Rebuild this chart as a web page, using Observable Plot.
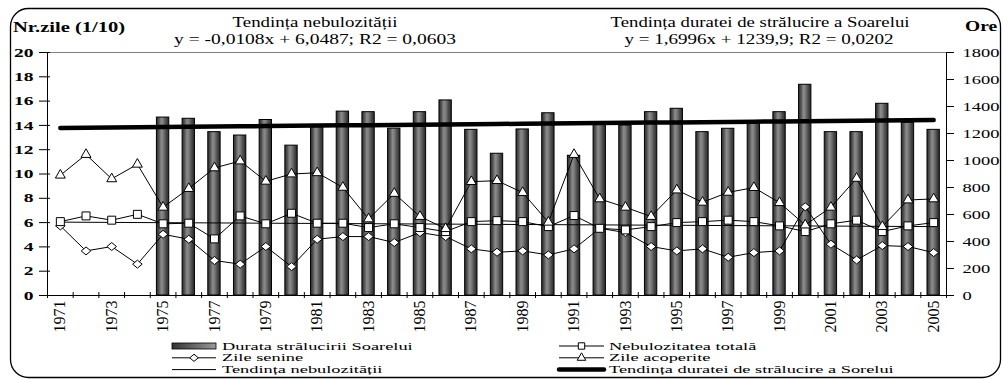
<!DOCTYPE html>
<html>
<head>
<meta charset="utf-8">
<script src="https://cdn.jsdelivr.net/npm/d3@7"></script>
<script src="https://cdn.jsdelivr.net/npm/@observablehq/plot@0.6"></script>
<style>
  body { margin: 0; background: #fff; }
  #chart { position: relative; width: 1003px; height: 379px; overflow: hidden; font-family: "Liberation Serif", "Times New Roman", serif; }
  #chart > svg { position: absolute; left: 0; top: 0; }
  #chart text { font-family: "Liberation Serif", "Times New Roman", serif; }
</style>
</head>
<body>
<div id="chart"></div>
<script>
// Yearly series, 1971–2005
const years = [1971,1972,1973,1974,1975,1976,1977,1978,1979,1980,1981,1982,1983,1984,1985,1986,1987,1988,1989,1990,1991,1992,1993,1994,1995,1996,1997,1998,1999,2000,2001,2002,2003,2004,2005];

// Durata strălucirii Soarelui (ore) – right axis
const sunHours = [null,null,null,null,1318,1309,1210,1185,1300,1110,1252,1362,1358,1236,1358,1445,1227,1050,1230,1350,1035,1274,1259,1358,1383,1210,1235,1281,1358,1561,1210,1210,1420,1279,1227];

// Nebulozitatea totală (zecimi) – left axis
const nebulozitate = [6.08,6.55,6.2,6.68,5.9,5.95,4.66,6.55,5.9,6.77,5.95,5.95,5.59,5.9,5.59,5.26,6.08,6.16,6.08,5.67,6.58,5.53,5.4,5.67,6.0,6.08,6.2,6.08,5.73,5.26,5.9,6.2,5.26,5.73,6.0];

// Zile senine (nr. zile / 10)
const zileSenine = [5.73,3.67,4.03,2.58,5.04,4.63,2.88,2.58,4.03,2.38,4.63,4.85,4.85,4.36,5.18,4.85,3.84,3.56,3.67,3.34,3.84,5.53,5.18,4.03,3.67,3.84,3.15,3.53,3.67,7.3,4.22,2.93,4.11,4.03,3.53];

// Zile acoperite (nr. zile / 10)
const zileAcoperite = [9.9,11.6,9.6,10.8,7.26,8.8,10.5,11.07,9.4,10.0,10.1,8.9,6.3,8.4,6.5,5.5,9.37,9.45,8.47,6.03,11.6,7.95,7.26,6.5,8.68,7.67,8.49,8.88,7.64,5.8,7.26,9.64,5.67,7.86,7.95];

// Axis ticks
const leftTicks = [0,2,4,6,8,10,12,14,16,18,20];
const rightTicks = [0,200,400,600,800,1000,1200,1400,1600,1800];
const xTickLabels = [1971,1973,1975,1977,1979,1981,1983,1985,1987,1989,1991,1993,1995,1997,1999,2001,2003,2005];

// Linear trends as stated in the header (x = 1 for 1971)
const trendNeb = { slope: -0.0108, intercept: 6.0487 };
const trendSun = { slope: 1.6996, intercept: 1239.9 };

// Right axis (0–1800 h) shares the plot with the left axis (0–20)
const hoursPerUnit = 1800 / 20;

const FONT = '"Liberation Serif", "Times New Roman", serif';

const rows = years.map((year, i) => ({
  year, sun: sunHours[i], neb: nebulozitate[i], sen: zileSenine[i], aco: zileAcoperite[i]
}));
const barRows = rows.filter(d => d.sun != null);
const nebTrend = years.map((year, i) => ({ year, v: trendNeb.intercept + trendNeb.slope * (i + 1) }));
const sunTrend = years.map((year, i) => ({ year, v: (trendSun.intercept + trendSun.slope * (i + 1)) / hoursPerUnit }));
const boundaries = [years[0] - 0.5, ...years.map(y => y + 0.5)];
const barHalf = 0.24;

// A diamond slightly wider than tall
const wideDiamond = {
  draw(ctx, size) {
    const r = Math.sqrt(size / Math.PI);
    ctx.moveTo(-1.2 * r, 0);
    ctx.lineTo(0, -r);
    ctx.lineTo(1.2 * r, 0);
    ctx.lineTo(0, r);
    ctx.closePath();
  }
};

const plot = Plot.plot({
  width: 1003,
  height: 340,
  marginTop: 52,
  marginBottom: 45,
  marginLeft: 47,
  marginRight: 57,
  style: { fontFamily: FONT, fontSize: "13px", color: "#000", background: "transparent" },
  x: { type: "linear", domain: [years[0] - 0.5, years[years.length - 1] + 0.5] },
  y: { domain: [0, 20] },
  marks: [
    Plot.rectY(barRows, {
      x1: d => d.year - barHalf, x2: d => d.year + barHalf,
      y1: 0, y2: d => d.sun / hoursPerUnit,
      fill: "url(#barGradient)", stroke: "#000", strokeWidth: 1
    }),
    Plot.ruleY([20], { stroke: "#808080", strokeWidth: 1 }),
    Plot.ruleY([0], { stroke: "#000", strokeWidth: 1 }),
    Plot.ruleX([years[0] - 0.5, years[years.length - 1] + 0.5], { stroke: "#000", strokeWidth: 1 }),
    Plot.line(nebTrend, { x: "year", y: "v", stroke: "#000", strokeWidth: 1 }),
    Plot.line(rows, { x: "year", y: "sen", stroke: "#000", strokeWidth: 1 }),
    Plot.dot(rows, { x: "year", y: "sen", symbol: wideDiamond, r: 4, fill: "#fff", stroke: "#000", strokeWidth: 1 }),
    Plot.line(rows, { x: "year", y: "neb", stroke: "#000", strokeWidth: 1 }),
    Plot.dot(rows, { x: "year", y: "neb", symbol: "square", r: 4.5, fill: "#fff", stroke: "#000", strokeWidth: 1 }),
    Plot.line(rows, { x: "year", y: "aco", stroke: "#000", strokeWidth: 1 }),
    Plot.dot(rows, { x: "year", y: "aco", symbol: "triangle", r: 3.7, fill: "#fff", stroke: "#000", strokeWidth: 1 }),
    Plot.line(sunTrend, { x: "year", y: "v", stroke: "#000", strokeWidth: 4.5, strokeLinecap: "round" }),
    Plot.axisY({ anchor: "left", ticks: leftTicks, tickSize: 11, dx: 3, tickPadding: 6, fontWeight: "bold", label: null }),
    Plot.axisY({ anchor: "right", ticks: rightTicks.map(h => h / hoursPerUnit), tickFormat: d => String(Math.round(d * hoursPerUnit)), tickSize: 7, tickPadding: 9, label: null }),
    Plot.axisX({ ticks: boundaries, tickSize: 6, dy: -3, tickFormat: () => "", label: null }),
    Plot.axisX({ ticks: xTickLabels, tickSize: 0, tickPadding: 5, tickRotate: -90, fontSize: 16, tickFormat: d => String(d), label: null })
  ]
});

// Bar fill: cylinder-like horizontal shading
const defs = d3.select(plot).insert("defs", ":first-child");
const bg = defs.append("linearGradient").attr("id", "barGradient").attr("x1", 0).attr("x2", 1).attr("y1", 0).attr("y2", 0);
[[0, "#2c2c2c"], [0.18, "#4f4f4f"], [0.4, "#8c8c8c"], [0.55, "#7a7a7a"], [0.78, "#4a4a4a"], [1, "#2a2a2a"]]
  .forEach(([o, c]) => bg.append("stop").attr("offset", o).attr("stop-color", c));

// The chart's lettering is wide: stretch horizontal tick labels
plot.querySelectorAll("text").forEach(t => {
  t.setAttribute("font-family", FONT);
  let tr = t.getAttribute("transform") || "";
  if (tr.includes("rotate")) return;
  const g = t.closest("[text-anchor]");
  const sx = g && g.getAttribute("text-anchor") === "end" ? 1.5 : 1.42;
  if (t.hasAttribute("x")) {
    const x = parseFloat(t.getAttribute("x")) || 0;
    t.removeAttribute("x");
    tr = `translate(${x},0) ` + tr;
  }
  t.setAttribute("transform", `${tr} scale(${sx},1)`);
});

document.getElementById("chart").appendChild(plot);

// Frame, headings and legend
const ov = d3.select("#chart").append("svg")
  .attr("width", 1003).attr("height", 379)
  .style("pointer-events", "none")
  .style("font-family", FONT);

const lg = ov.append("defs").append("linearGradient").attr("id", "legendGradient").attr("x1", 0).attr("x2", 1);
lg.append("stop").attr("offset", 0).attr("stop-color", "#333");
lg.append("stop").attr("offset", 1).attr("stop-color", "#9a9a9a");

ov.append("rect").attr("x", 10.5).attr("y", 8.5).attr("width", 990).attr("height", 369).attr("rx", 18)
  .attr("fill", "none").attr("stroke", "#000").attr("stroke-width", 1.3);

function label(x, y, str, { size = 15, weight = "normal", anchor = "start", sx = 1.3 } = {}) {
  ov.append("text")
    .attr("transform", `translate(${x},${y}) scale(${sx},1)`)
    .attr("text-anchor", anchor)
    .attr("font-family", FONT)
    .attr("font-size", size)
    .attr("font-weight", weight)
    .attr("fill", "#000")
    .text(str);
}

label(13, 31.5, "Nr.zile (1/10)", { weight: "bold", sx: 1.37 });
label(315, 26.5, "Tendința nebulozității", { anchor: "middle", sx: 1.26 });
label(315, 43.5, "y = -0,0108x + 6,0487; R2 = 0,0603", { anchor: "middle", sx: 1.3 });
label(760, 26.5, "Tendința duratei de strălucire a Soarelui", { anchor: "middle", sx: 1.25 });
label(759, 43.5, "y = 1,6996x + 1239,9; R2 = 0,0202", { anchor: "middle", sx: 1.27 });
label(965, 31, "Ore", { weight: "bold", sx: 1.3 });

// Legend
const rowY = [346, 357.8, 369.6];
const col1 = { x0: 172, x1: 216, tx: 222 };
const col2 = { x0: 559, x1: 604, tx: 609 };
const legendText = { size: 10.5, sx: 1.75 };

function legendLine(col, y, width = 1) {
  ov.append("line").attr("x1", col.x0).attr("x2", col.x1).attr("y1", y).attr("y2", y)
    .attr("stroke", "#000").attr("stroke-width", width).attr("stroke-linecap", width > 2 ? "round" : "butt");
}
function legendSymbol(col, y, type, r) {
  ov.append("path")
    .attr("transform", `translate(${(col.x0 + col.x1) / 2},${y})`)
    .attr("d", d3.symbol(type, r * r * Math.PI)())
    .attr("fill", "#fff").attr("stroke", "#000");
}

ov.append("rect").attr("x", col1.x0).attr("y", rowY[0] - 3).attr("width", col1.x1 - col1.x0).attr("height", 6)
  .attr("fill", "url(#legendGradient)").attr("stroke", "#000").attr("stroke-width", 0.8);
label(col1.tx, rowY[0] + 3.6, "Durata strălucirii Soarelui", legendText);

legendLine(col1, rowY[1]);
legendSymbol(col1, rowY[1], wideDiamond, 3.6);
label(col1.tx, rowY[1] + 3.6, "Zile senine", legendText);

legendLine(col1, rowY[2]);
label(col1.tx, rowY[2] + 3.6, "Tendința nebulozității", legendText);

legendLine(col2, rowY[0]);
legendSymbol(col2, rowY[0], d3.symbolSquare, 3.6);
label(col2.tx, rowY[0] + 3.6, "Nebulozitatea totală", legendText);

legendLine(col2, rowY[1]);
legendSymbol(col2, rowY[1], d3.symbolTriangle, 3.2);
label(col2.tx, rowY[1] + 3.6, "Zile acoperite", legendText);

legendLine(col2, rowY[2], 4.5);
label(col2.tx, rowY[2] + 3.6, "Tendința duratei de strălucire a Sorelui", legendText);
</script>
</body>
</html>
